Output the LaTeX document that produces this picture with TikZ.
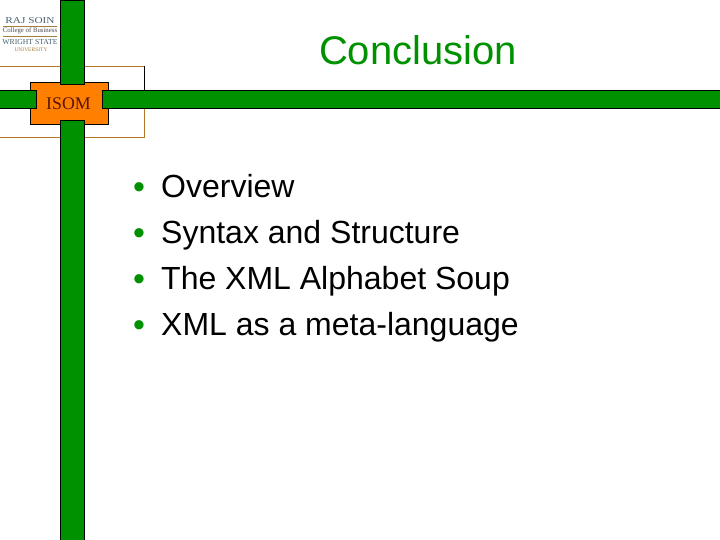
\documentclass[tikz,border=0pt]{standalone}
\usepackage{fontspec}
\setmainfont{Liberation Sans}
\newfontfamily\serifname{Liberation Serif}
\definecolor{bargreen}{RGB}{0,145,0}
\definecolor{boxorange}{RGB}{255,128,0}
\definecolor{framebrown}{RGB}{178,120,40}
\definecolor{logoblue}{RGB}{70,95,110}
\definecolor{logogold}{RGB}{165,125,60}
\definecolor{isomred}{RGB}{90,20,0}
\tikzset{
	bar/.style={draw=black, fill=bargreen, line width=0.7pt},
	logotext/.style={text=logoblue, inner sep=0pt, font=\serifname\fontsize{#1}{#1}\selectfont},
	item/.style={anchor=base west, inner sep=0pt, font=\fontsize{32}{32}\selectfont},
	dot/.style={anchor=base, inner sep=0pt, text=bargreen, font=\fontsize{34}{34}\selectfont}
}
\begin{document}
\begin{tikzpicture}[x=1pt, y=-1pt]

		\useasboundingbox (0,0) rectangle (720,540);

		\draw[framebrown, line width=0.7pt] (0,66.5) -- (144.5,66.5);
		\draw[framebrown, line width=0.7pt] (0,137.5) -- (144.5,137.5) -- (144.5,108);
		\draw[black, line width=0.7pt] (144.5,66.5) -- (144.5,90);

		\draw[draw=black, fill=boxorange, line width=0.7pt] (30.5,82.5) rectangle (108.5,124.5);

		\draw[bar] (60.5,0.5) rectangle (84.5,84);
		\draw[bar] (60.5,120.5) rectangle (84.5,540.5);
		\draw[bar] (-1,90.5) rectangle (36.5,108.5);
		\draw[bar] (102.5,90.5) rectangle (721,108.5);

		\node[inner sep=0pt, text=isomred, font=\serifname\fontsize{17.8}{17.8}\selectfont] (isom) at (68.5,104) {ISOM};

		\node[logotext=9, xscale=1.25] (soin) at (30,20.5) {RAJ SOIN};
		\node[logotext=6.8, text=black!70] (college) at (30,30.7) {College of Business};
		\node[logotext=7.7] (wright) at (30,42) {WRIGHT STATE};
		\node[logotext=5.5, text=logogold] (univ) at (31,50) {UNIVERSITY};
		\draw[logogold, line width=0.5pt] (3,26) -- (57,26); %Linea
		\draw[logogold, line width=0.5pt] (3,36.5) -- (57,36.5); %Linea

		\node[inner sep=0pt, anchor=base, text=bargreen, font=\fontsize{40}{40}\selectfont] (title) at (418,65) {Conclusion};

		\node[dot] (d1) at (139,198.7) {•}; %Punto
		\node[item] (i1) at (161,197) {Overview};
		\node[dot] (d2) at (139,244.7) {•}; %Punto
		\node[item] (i2) at (161,243.4) {Syntax and Structure};
		\node[dot] (d3) at (139,290.7) {•}; %Punto
		\node[item] (i3) at (161,289) {The XML Alphabet Soup};
		\node[dot] (d4) at (139,336.7) {•}; %Punto
		\node[item] (i4) at (161,335) {XML as a meta-language};

	\end{tikzpicture}
\end{document}
